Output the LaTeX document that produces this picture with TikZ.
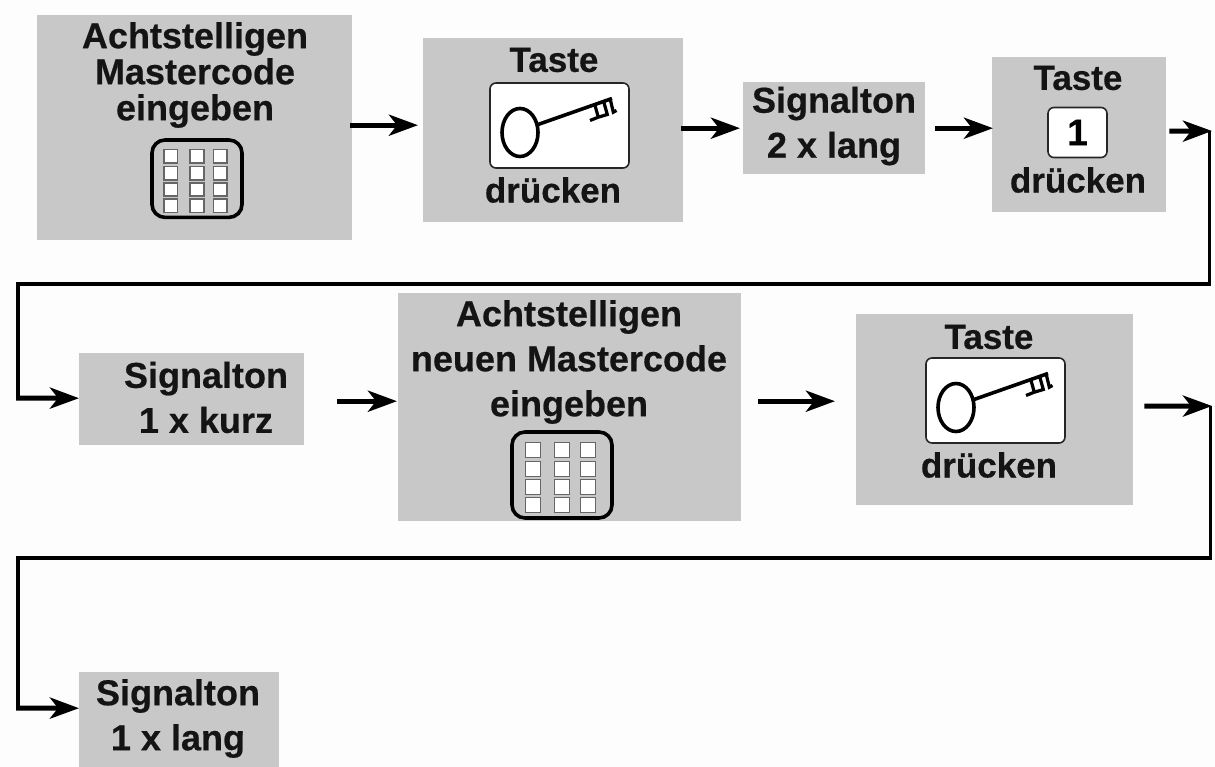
\documentclass[tikz,border=0pt]{standalone}
\usepackage{fontspec}
\setmainfont{Liberation Sans}[BoldFeatures={FakeBold=0.5}]
\usetikzlibrary{arrows.meta}
\definecolor{boxgrey}{HTML}{C8C8C8}
\definecolor{paper}{HTML}{FDFDFD}
\tikzset{
  x=1pt,y=-1pt,
  boxfill/.style={fill=boxgrey,draw=none,inner sep=0pt,anchor=north west},
  label/.style={font=\fontsize{36}{36}\selectfont\bfseries,align=center,inner sep=0pt,text=black!92},
  widelabel/.style={label,font=\fontsize{36}{45}\selectfont\bfseries},
  smalllabel/.style={label,font=\fontsize{35}{36}\selectfont\bfseries},
  flow/.style={line width=5pt,-{Stealth[length=29pt,width=21pt,inset=8pt]}},
  wire/.style={line width=3.5pt,line join=miter,line cap=butt},
  keybox/.style={draw=black!85,fill=white,line width=1.6pt,rounded corners=6pt},
  keyline/.style={draw=black,line width=3.6pt},
  padframe/.style={draw=black,line width=3.6pt,rounded corners=13pt},
  cell/.style={draw=black!60,fill=white,line width=1.6pt},
  pics/keyicon/.style={code={
    \draw[keybox] (-69.5,-42.5) rectangle (69.5,42.5);
    \draw[keyline] (-39.5,7) ellipse [x radius=18,y radius=24];
    \draw[keyline] (-21.5,-1) -- (52.5,-27);
    \draw[keyline,line width=3.2pt,line join=miter]
      (35.5,-20) -- (38.8,-8.3) -- (30.5,-5)
      (38.8,-8.3) -- (47.8,-11) -- (44.5,-22.7)
      (51,-25) -- (53.8,-13.3) -- (57,-15);
  }},
  pics/keypad/.style={code={
    \draw[padframe] (0,0) rectangle (100,86);
    \foreach \cx in {21,50,76}
      \foreach \cy in {18,37,55,73}
        \draw[cell] (\cx-7.5,\cy-7.5) rectangle (\cx+7.5,\cy+7.5);
  }},
}
\begin{document}
\begin{tikzpicture}
\useasboundingbox (0,0) rectangle (1215,767);
\fill[paper] (0,0) rectangle (1215,767);

% boxes
\node[boxfill,minimum width=315pt,minimum height=225pt] (boxa) at (37,15) {};
\node[boxfill,minimum width=260pt,minimum height=184pt] (boxb) at (423,38) {};
\node[boxfill,minimum width=182pt,minimum height=92pt] (boxc) at (743,82) {};
\node[boxfill,minimum width=174pt,minimum height=155pt] (boxd) at (992,57) {};
\node[boxfill,minimum width=225pt,minimum height=92pt] (boxe) at (79,353) {};
\node[boxfill,minimum width=343pt,minimum height=228pt] (boxf) at (398,293) {};
\node[boxfill,minimum width=277pt,minimum height=191pt] (boxg) at (856,314) {};
\node[boxfill,minimum width=200pt,minimum height=95pt] (boxh) at (79,672) {};

% labels
\node[label] (a) at (195,75) {Achtstelligen\\Mastercode\\eingeben};
\node[smalllabel] (b1) at (554,60) {Taste};
\node[smalllabel] (b2) at (553,190) {drücken};
\node[widelabel] (c) at (834,126) {Signalton\\2 x lang};
\node[smalllabel] (d1) at (1078,78) {Taste};
\node[smalllabel] (d2) at (1078,180) {drücken};
\node[widelabel] (e) at (206,397.5) {Signalton\\1 x kurz};
\node[widelabel] (f) at (569,362) {Achtstelligen\\neuen Mastercode\\eingeben};
\node[smalllabel] (g1) at (989,337) {Taste};
\node[smalllabel] (g2) at (989,465) {drücken};
\node[widelabel] (h) at (178,718.5) {Signalton\\1 x lang};

% icons
\pic[scale=0.9] at (152,140) {keypad};
\pic at (512,432) {keypad};
\pic at (559.5,125.5) {keyicon};
\pic at (995.5,400.5) {keyicon};
\node[keybox,minimum width=59pt,minimum height=50pt,inner sep=0pt,font=\fontsize{37}{37}\selectfont\bfseries] (one) at (1077.5,132.5) {1};

% connectors
\coordinate (turn1) at (1212,131);
\coordinate (turn2) at (1212,406);
\coordinate (left1) at (16.25,398);
\coordinate (left2) at (16.25,708);
\draw[flow] ([shift={(-2,-2.5)}]boxa.east) -- ([shift={(-5,-5)}]boxb.west);
\draw[flow] ([shift={(-2,-2)}]boxb.east) -- ([shift={(-3,0)}]boxc.west);
\draw[flow] ([shift={(10,0)}]boxc.east) -- ([shift={(1,-6.5)}]boxd.west);
\draw[flow] ([shift={(3,-3.5)}]boxd.east) -- (turn1);
\draw[wire] (1209.5,131) -- (1209.5,284) -- (18,284) -- (18,398);
\draw[flow] (left1) -- ([shift={(0,-1)}]boxe.west);
\draw[flow] ([shift={(33,2)}]boxe.east) -- ([shift={(-1,-6)}]boxf.west);
\draw[flow] ([shift={(17,-6)}]boxf.east) -- ([shift={(-21,-8.5)}]boxg.west);
\draw[flow] ([shift={(11,-3.5)}]boxg.east) -- (turn2);
\draw[wire] (1210.5,406) -- (1210.5,558) -- (18,558) -- (18,708);
\draw[flow] (left2) -- ([shift={(0,-11.5)}]boxh.west);
\end{tikzpicture}
\end{document}
